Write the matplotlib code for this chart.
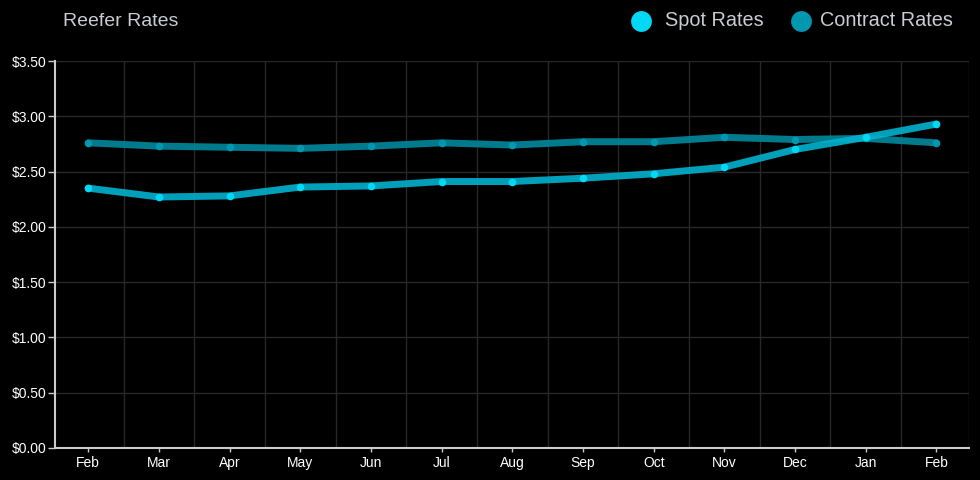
import matplotlib
matplotlib.use("Agg")
import matplotlib.pyplot as plt
from matplotlib.lines import Line2D

months = ["Feb", "Mar", "Apr", "May", "Jun", "Jul", "Aug", "Sep", "Oct", "Nov", "Dec", "Jan", "Feb"]
spot_rates = [2.35, 2.27, 2.28, 2.36, 2.37, 2.41, 2.41, 2.44, 2.48, 2.54, 2.70, 2.81, 2.93]
contract_rates = [2.76, 2.73, 2.72, 2.71, 2.73, 2.76, 2.74, 2.77, 2.77, 2.81, 2.79, 2.80, 2.76]
y_ticks = [0, 0.5, 1.0, 1.5, 2.0, 2.5, 3.0, 3.5]
y_labels = ["$0.00", "$0.50", "$1.00", "$1.50", "$2.00", "$2.50", "$3.00", "$3.50"]

plt.rcParams['font.family'] = ['Liberation Sans', 'DejaVu Sans']

W, H = 980, 480
fig = plt.figure(figsize=(W / 100, H / 100), dpi=100, facecolor='black')
L, R, B, T = 55, 969, 448, 61
ax = fig.add_axes([L / W, 1 - B / H, (R - L) / W, (B - T) / H], facecolor='black')

x = list(range(len(months)))
ax.set_xlim(-0.47, 12.46)
ax.set_ylim(0, 3.5)

# grid
grid_col = '#282828'
for i in range(len(months) - 1):
    ax.axvline(i + 0.5, color=grid_col, lw=1.0, zorder=0)
ax.axvline(12.46, color=grid_col, lw=1.0, zorder=0)
for v in y_ticks[1:]:
    ax.axhline(v, color=grid_col, lw=1.0, zorder=0)

contract_line = '#00899e'
contract_dot = '#0097b0'
spot_line = '#00b2cf'
spot_dot = '#00d8f5'

ax.plot(x, contract_rates, color=contract_line, lw=5, alpha=0.9,
        solid_capstyle='round', solid_joinstyle='round', zorder=2)
ax.plot(x, contract_rates, 'o', color=contract_dot, ms=5.5, mew=0, zorder=3)
ax.plot(x, spot_rates, color=spot_line, lw=5, alpha=0.9,
        solid_capstyle='round', solid_joinstyle='round', zorder=4)
ax.plot(x, spot_rates, 'o', color=spot_dot, ms=5.5, mew=0, zorder=5)

ax.set_xticks(x)
ax.set_xticklabels(months, color='white', fontsize=10)
ax.set_yticks(y_ticks)
ax.set_yticklabels(y_labels, color='white', fontsize=10)
ax.tick_params(axis='x', colors='#cccccc', length=3, width=1, pad=3, labelcolor='white')
ax.tick_params(axis='y', colors='#cccccc', length=5, width=1, pad=1, labelcolor='white')

for s in ['top', 'right']:
    ax.spines[s].set_visible(False)
for s in ['left', 'bottom']:
    ax.spines[s].set_color('#cccccc')
    ax.spines[s].set_linewidth(1.5)

# title
fig.text(63 / W, 1 - 21 / H, "Reefer Rates", color='#c8cdd0', fontsize=14, va='center', ha='left')

# legend
def legend_item(cx, tx, color, label):
    fig.add_artist(Line2D([cx / W], [1 - 21 / H], transform=fig.transFigure,
                          marker='o', color=color, ms=15, mew=0, linestyle='none'))
    fig.text(tx / W, 1 - 21 / H, label, color='#c8cdd0', fontsize=14.3, va='center', ha='left')

legend_item(641, 665, spot_dot, "Spot Rates")
legend_item(801, 820, contract_dot, "Contract Rates")

fig.savefig("out.png", dpi=100, facecolor='black')
